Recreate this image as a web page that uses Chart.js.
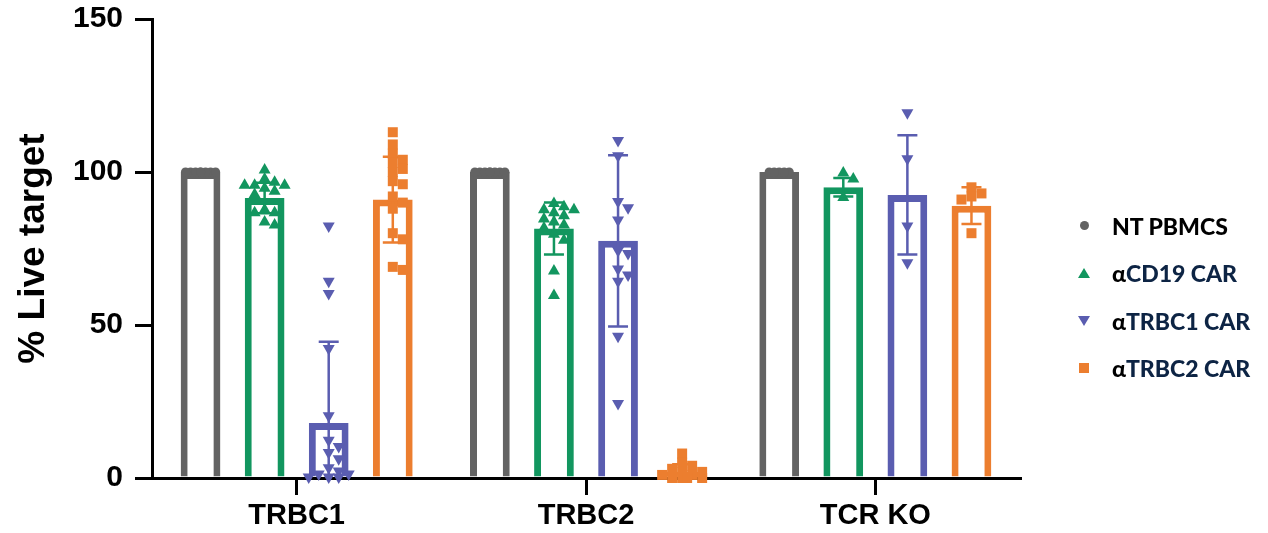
<!DOCTYPE html>
<html lang="en">
<head>
    <meta charset="UTF-8">
    <title>% Live target</title>
    <script src="https://cdn.jsdelivr.net/npm/chart.js"></script>
    <style>
        html, body { margin: 0; padding: 0; background: #fff; }
        #wrap { position: relative; width: 1268px; height: 533px; }
        #legend {
            position: absolute; left: 1075px; top: 202px;
            font-family: Lato, "Open Sans", sans-serif; font-weight: 900; font-size: 23px;
        }
        #legend .row { display: flex; align-items: center; height: 47.5px; }
        #legend .mk { width: 18px; margin-right: 19px; display: flex; justify-content: center; }
        #legend .navy { color: #0d2444; }
        .circle { width: 9px; height: 9px; border-radius: 50%; background: #636363; }
        .up { width: 0; height: 0; border-left: 6px solid transparent; border-right: 6px solid transparent; border-bottom: 10px solid #12965f; }
        .down { width: 0; height: 0; border-left: 6px solid transparent; border-right: 6px solid transparent; border-top: 10px solid #5a5db0; }
        .square { width: 10px; height: 10px; background: #ec7e2f; }
    </style>
</head>
<body>
<div id="wrap">
    <canvas id="chart" width="1268" height="533"></canvas>
    <div id="legend">
        <div class="row"><span class="mk"><span class="circle"></span></span><span>NT PBMCS</span></div>
        <div class="row"><span class="mk"><span class="up"></span></span><span>α<span class="navy">CD19 CAR</span></span></div>
        <div class="row"><span class="mk"><span class="down"></span></span><span>α<span class="navy">TRBC1 CAR</span></span></div>
        <div class="row"><span class="mk"><span class="square"></span></span><span>α<span class="navy">TRBC2 CAR</span></span></div>
    </div>
</div>

<script>
    const categories = ['TRBC1', 'TRBC2', 'TCR KO'];
    const seriesNames = ['NT PBMCS', 'αCD19 CAR', 'αTRBC1 CAR', 'αTRBC2 CAR'];
    const yTicks = [0, 50, 100, 150];

    // bar heights (mean) and SD per category
    const ntMean = [100, 100, 100];
    const cd19Mean = [91.5, 81.5, 95];
    const trbc1Mean = [18, 77.5, 92.5];
    const trbc2Mean = [91, 2, 89];

    const ntSD = [0, 0, 0];
    const cd19SD = [5, 8.5, 3];
    const trbc1SD = [26.5, 28, 19.5];
    const trbc2SD = [14, 2.5, 6];

    // individual replicates
    const ntPoints = [
        [100, 100, 100, 100, 100, 100, 100, 100],
        [100, 100, 100, 100, 100, 100, 100, 100],
        [100, 100, 100, 100, 100]
    ];
    const cd19Points = [
        [101, 98, 97, 96, 96, 96, 95, 94, 93, 88, 87, 87, 84, 83],
        [90, 89, 88, 88, 87, 86, 85, 84, 83, 82, 80, 78, 68, 60],
        [100, 98, 92]
    ];
    const trbc1Points = [
        [82, 64, 60, 42, 20, 12, 10, 8, 6, 3, 2, 1, 1, 0, 0, 0],
        [110, 105, 90, 88, 84, 74, 73, 68, 66, 64, 46, 24],
        [119, 104, 82, 70]
    ];
    const trbc2Points = [
        [113, 109, 106, 104, 103, 101, 100, 97, 96, 92, 90, 88, 80, 78, 69, 68],
        [8, 5, 4, 3, 2, 2, 1, 1, 0, 0, 0, 0],
        [95, 93, 92, 91, 80]
    ];

    const colors = ['#636363', '#12965f', '#5a5db0', '#ec7e2f'];
    const shapes = ['circle', 'up', 'down', 'square'];
    const means = [ntMean, cd19Mean, trbc1Mean, trbc2Mean];
    const sds = [ntSD, cd19SD, trbc1SD, trbc2SD];
    const points = [ntPoints, cd19Points, trbc1Points, trbc2Points];

    function drawMarker(ctx, shape, x, y) {
        ctx.beginPath();
        if (shape === 'circle') {
            ctx.arc(x, y, 4.6, 0, Math.PI * 2);
        } else if (shape === 'up') {
            ctx.moveTo(x, y - 6); ctx.lineTo(x + 6, y + 4.5); ctx.lineTo(x - 6, y + 4.5);
        } else if (shape === 'down') {
            ctx.moveTo(x, y + 6); ctx.lineTo(x + 6, y - 4.5); ctx.lineTo(x - 6, y - 4.5);
        } else {
            ctx.rect(x - 5, y - 5, 10, 10);
        }
        ctx.closePath();
        ctx.fill();
    }

    // spread equal-ish values sideways so they don't sit on top of each other
    function swarm(ys, maxOff) {
        const step = 5, minD = 9;
        const placed = [];
        ys.forEach(py => {
            let best = 0, bestScore = -1;
            for (let k = 0; k <= maxOff / step * 2; k++) {
                const off = (k % 2 ? 1 : -1) * Math.ceil(k / 2) * step;
                let d = Infinity;
                placed.forEach(p => { d = Math.min(d, Math.hypot(p.dx - off, p.y - py)); });
                if (d >= minD) { best = off; bestScore = d; break; }
                if (d > bestScore) { best = off; bestScore = d; }
            }
            placed.push({ dx: best, y: py });
        });
        return placed;
    }

    const overlayPlugin = {
        id: 'overlay',
        afterDatasetsDraw(chart) {
            const ctx = chart.ctx;
            const yScale = chart.scales.y;
            ctx.save();
            chart.data.datasets.forEach((ds, di) => {
                const meta = chart.getDatasetMeta(di);
                meta.data.forEach((bar, ci) => {
                    const x = bar.x;
                    const m = means[di][ci], sd = sds[di][ci];
                    ctx.strokeStyle = colors[di];
                    ctx.fillStyle = colors[di];
                    if (sd > 0) {
                        const yTop = yScale.getPixelForValue(m + sd);
                        const yBot = yScale.getPixelForValue(Math.max(m - sd, 0));
                        ctx.lineWidth = 2.5;
                        ctx.beginPath();
                        ctx.moveTo(x, yTop); ctx.lineTo(x, yBot);
                        ctx.moveTo(x - 10, yTop); ctx.lineTo(x + 10, yTop);
                        if (m - sd > 0) { ctx.moveTo(x - 10, yBot); ctx.lineTo(x + 10, yBot); }
                        ctx.stroke();
                    }
                    const ys = points[di][ci].map(v => yScale.getPixelForValue(v));
                    swarm(ys, di === 0 ? 15 : 20).forEach(p => drawMarker(ctx, shapes[di], x + p.dx, p.y));
                });
            });
            ctx.restore();
        }
    };

    const datasets = seriesNames.map((name, i) => ({
        label: name,
        data: means[i],
        backgroundColor: '#ffffff',
        borderColor: colors[i],
        borderWidth: 7,
        borderSkipped: 'bottom',
        categoryPercentage: 0.886,
        barPercentage: 0.62
    }));

    const tickFont = { family: '"Liberation Sans", Arial, sans-serif', weight: 'bold', size: 30 };

    new Chart(document.getElementById('chart').getContext('2d'), {
        type: 'bar',
        data: { labels: categories, datasets: datasets },
        options: {
            responsive: false,
            animation: false,
            layout: { padding: { top: 19, right: 248, bottom: 0, left: 0 } },
            plugins: { legend: { display: false }, tooltip: { enabled: false } },
            scales: {
                x: {
                    offset: true,
                    grid: { offset: false, drawOnChartArea: false, tickLength: 17, color: '#000', lineWidth: 3 },
                    border: { color: '#000', width: 3 },
                    ticks: { color: '#000', font: { ...tickFont, size: 29 }, padding: 4, maxRotation: 0 },
                    afterFit: s => { s.height = 55; s.paddingLeft = 0; s.paddingRight = 0; }
                },
                y: {
                    min: 0,
                    max: 150,
                    afterBuildTicks: s => { s.ticks = yTicks.map(v => ({ value: v })); },
                    grid: { drawOnChartArea: false, tickLength: 17, color: '#000', lineWidth: 3 },
                    border: { color: '#000', width: 3 },
                    ticks: { color: '#000', font: tickFont, padding: 12 },
                    title: {
                        display: true,
                        text: '% Live target',
                        color: '#000',
                        font: { family: '"Liberation Sans", Arial, sans-serif', weight: 'bold', size: 37 },
                        padding: { top: 12, bottom: 0 }
                    },
                    afterFit: s => { s.width = 152; s.paddingTop = 0; s.paddingBottom = 0; }
                }
            }
        },
        plugins: [overlayPlugin]
    });
</script>
</body>
</html>
